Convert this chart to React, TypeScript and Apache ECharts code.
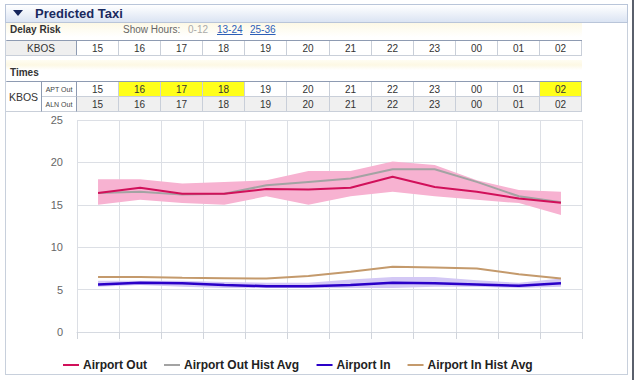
import React, { useEffect, useRef } from "react";
import * as echarts from "echarts";

const hours = ["15", "16", "17", "18", "19", "20", "21", "22", "23", "00", "01", "02"];
const aptOutHighlight = [false, true, true, true, false, false, false, false, false, false, false, true];
const yTicks = [0, 5, 10, 15, 20, 25];

const airportOut = [16.4, 17.0, 16.3, 16.3, 16.85, 16.8, 17.0, 18.3, 17.1, 16.55, 15.75, 15.25];
const airportOutHist = [16.4, 16.55, 16.2, 16.3, 17.3, 17.7, 18.1, 19.2, 19.2, 17.7, 16.0, 15.3];
const outUpper = [18.0, 18.0, 17.5, 17.7, 17.9, 19.0, 19.0, 20.1, 19.7, 17.9, 16.75, 16.55];
const outLower = [15.0, 15.6, 15.2, 15.0, 16.0, 15.0, 16.0, 16.55, 16.0, 15.6, 15.2, 13.8];

const airportIn = [5.6, 5.8, 5.75, 5.55, 5.4, 5.4, 5.55, 5.8, 5.75, 5.6, 5.45, 5.75];
const airportInHist = [6.5, 6.5, 6.4, 6.35, 6.3, 6.6, 7.1, 7.7, 7.6, 7.5, 6.8, 6.3];
const inUpper = [6.05, 6.05, 6.05, 5.9, 5.8, 5.8, 6.2, 6.5, 6.5, 6.1, 5.8, 6.3];
const inLower = [5.35, 5.55, 5.35, 5.2, 5.2, 5.2, 5.2, 5.2, 5.35, 5.35, 5.2, 5.35];

const legendNames = ["Airport Out", "Airport Out Hist Avg", "Airport In", "Airport In Hist Avg"];

const FONT = "'Liberation Sans', Arial, sans-serif";
const cellX = (i: number) => 77 + Math.round((i * 505) / 12);

function Cell(props: {
  x: number; y: number; w: number; h: number; text: string; bg?: string; size?: number; color?: string;
  bl?: string; br?: string; bt?: string; bb?: string;
}) {
  const { x, y, w, h, text, bg, size, color } = props;
  return (
    <div
      style={{
        position: "absolute", left: x, top: y, width: w, height: h, boxSizing: "border-box",
        background: bg || "transparent", display: "flex", alignItems: "center", justifyContent: "center",
        fontSize: size || 10, color: color || "#333", fontFamily: FONT,
        borderRight: props.br || "1px solid #c9cfd9", borderBottom: props.bb || "1px solid #c9cfd9",
        borderLeft: props.bl || "none", borderTop: props.bt || "none",
      }}
    >
      {text}
    </div>
  );
}

function Chart() {
  const ref = useRef<HTMLDivElement>(null);
  useEffect(() => {
    if (!ref.current) return;
    const chart = echarts.init(ref.current, undefined, { renderer: "svg" });
    const outDiff = outUpper.map((v, i) => +(v - outLower[i]).toFixed(2));
    const inDiff = inUpper.map((v, i) => +(v - inLower[i]).toFixed(2));
    const bandBase = { type: "line", symbol: "none", silent: true, lineStyle: { opacity: 0 }, z: 1 };
    chart.setOption({
      animation: false,
      grid: { left: 77, right: 58, top: 7, bottom: 48 },
      legend: {
        data: legendNames,
        left: 58,
        top: 241,
        icon: "rect",
        itemWidth: 16,
        itemHeight: 2,
        itemGap: 17,
        textStyle: { fontFamily: FONT, fontWeight: "bold", fontSize: 12, color: "#222", padding: [0, 0, 0, -1] },
        selectedMode: false,
      },
      xAxis: {
        type: "category",
        data: hours,
        boundaryGap: true,
        axisLabel: { show: false },
        axisLine: { show: true, lineStyle: { color: "#d6dae1" } },
        axisTick: { show: true, length: 7, lineStyle: { color: "#d0d4db" } },
        splitLine: { show: true, lineStyle: { color: "#dcdfe5" } },
      },
      yAxis: {
        type: "value",
        min: 0,
        max: 25,
        interval: 5,
        axisLine: { show: false },
        axisTick: { show: false },
        axisLabel: { color: "#666", fontFamily: FONT, fontSize: 11, margin: 14, formatter: (v: number) => (yTicks.includes(v) ? String(v) : "") },
        splitLine: { lineStyle: { color: "#dcdfe5" } },
      },
      series: [
        { ...bandBase, name: "outLow", stack: "outBand", data: outLower },
        { ...bandBase, name: "outBand", stack: "outBand", data: outDiff, areaStyle: { color: "#f7b2d1", opacity: 1 } },
        { ...bandBase, name: "inLow", stack: "inBand", data: inLower },
        { ...bandBase, name: "inBand", stack: "inBand", data: inDiff, areaStyle: { color: "#d3c8f5", opacity: 1 } },
        { type: "line", name: "Airport Out Hist Avg", data: airportOutHist, symbol: "none", color: "#a3a3a3", lineStyle: { width: 2, color: "#a3a3a3" }, z: 3 },
        { type: "line", name: "Airport In Hist Avg", data: airportInHist, symbol: "none", color: "#c49a6c", lineStyle: { width: 2, color: "#c49a6c" }, z: 3 },
        { type: "line", name: "Airport Out", data: airportOut, symbol: "none", color: "#d1105a", lineStyle: { width: 2, color: "#d1105a" }, z: 4 },
        { type: "line", name: "Airport In", data: airportIn, symbol: "none", color: "#2a00c8", lineStyle: { width: 2.5, color: "#2a00c8" }, z: 4 },
      ],
    });
    return () => chart.dispose();
  }, []);
  return <div ref={ref} style={{ position: "absolute", left: 0, top: 113, width: 640, height: 267 }} />;
}

export default function App() {
  const text = (x: number, y: number, s: string, style: React.CSSProperties = {}) => (
    <div style={{ position: "absolute", left: x, top: y, fontFamily: FONT, fontSize: 10, lineHeight: "12px", whiteSpace: "nowrap", ...style }}>{s}</div>
  );
  return (
    <div style={{ position: "absolute", left: 0, top: 0, width: 640, height: 380, background: "#fff", overflow: "hidden" }}>
      {/* outer panel */}
      <div style={{ position: "absolute", left: 5, top: 4, width: 623, height: 371, boxSizing: "border-box", border: "1px solid #c8d0dc" }} />
      <div style={{ position: "absolute", left: 632, top: 0, width: 2, height: 380, background: "#5a606c" }} />
      {/* header */}
      <div style={{ position: "absolute", left: 5, top: 4, width: 623, height: 19, boxSizing: "border-box", border: "1px solid #b9c5d9", background: "linear-gradient(#ffffff, #dbe4f3)" }} />
      <div style={{ position: "absolute", left: 13, top: 10, width: 0, height: 0, borderLeft: "5px solid transparent", borderRight: "5px solid transparent", borderTop: "6px solid #15245a" }} />
      {text(35, 6, "Predicted Taxi", { fontSize: 13, fontWeight: "bold", color: "#1a2a5e", lineHeight: "15px" })}
      {/* delay risk row */}
      <div style={{ position: "absolute", left: 6, top: 23, width: 576, height: 14, background: "linear-gradient(#fdf9e6, #ffffff)" }} />
      {text(10, 24, "Delay Risk", { fontWeight: "bold", color: "#333" })}
      {text(123, 24, "Show Hours:", { color: "#666" })}
      {text(188, 24, "0-12", { color: "#aaa" })}
      {text(217, 24, "13-24", { color: "#2d5fb8", textDecoration: "underline" })}
      {text(250, 24, "25-36", { color: "#2d5fb8", textDecoration: "underline" })}
      <div style={{ position: "absolute", left: 6, top: 40, width: 576, height: 16, boxSizing: "border-box", borderTop: "1px solid #8e9bb2", borderBottom: "1px solid #c9cfd9", borderLeft: "1px solid #c9cfd9" }} />
      <Cell x={6} y={41} w={71} h={14} text="KBOS" bg="#efefef" br="1px solid #8e9bb2" bb="none" />
      {hours.map((h, i) => (
        <Cell key={"d" + i} x={cellX(i)} y={41} w={cellX(i + 1) - cellX(i)} h={14} text={h} bb="none" />
      ))}
      {/* times */}
      <div style={{ position: "absolute", left: 6, top: 60, width: 576, height: 10, background: "linear-gradient(#fffdf2, #fdf8e4, #ffffff)" }} />
      {text(10, 67, "Times", { fontWeight: "bold", color: "#333" })}
      <div style={{ position: "absolute", left: 6, top: 81, width: 576, height: 31, boxSizing: "border-box", borderTop: "1px solid #8e9bb2", borderLeft: "1px solid #c9cfd9" }} />
      <Cell x={6} y={82} w={36} h={30} text="KBOS" bg="#fff" br="1px solid #8e9bb2" size={10.5} />
      <Cell x={42} y={82} w={35} h={15} text="APT Out" size={7} color="#444" br="1px solid #8e9bb2" />
      <Cell x={42} y={97} w={35} h={15} text="ALN Out" size={7} color="#444" br="1px solid #8e9bb2" />
      {hours.map((h, i) => (
        <Cell key={"a" + i} x={cellX(i)} y={82} w={cellX(i + 1) - cellX(i)} h={15} text={h} bg={aptOutHighlight[i] ? "#ffff1a" : "#fff"} />
      ))}
      {hours.map((h, i) => (
        <Cell key={"l" + i} x={cellX(i)} y={97} w={cellX(i + 1) - cellX(i)} h={15} text={h} bg="#f0f0f0" />
      ))}
      <Chart />
    </div>
  );
}
